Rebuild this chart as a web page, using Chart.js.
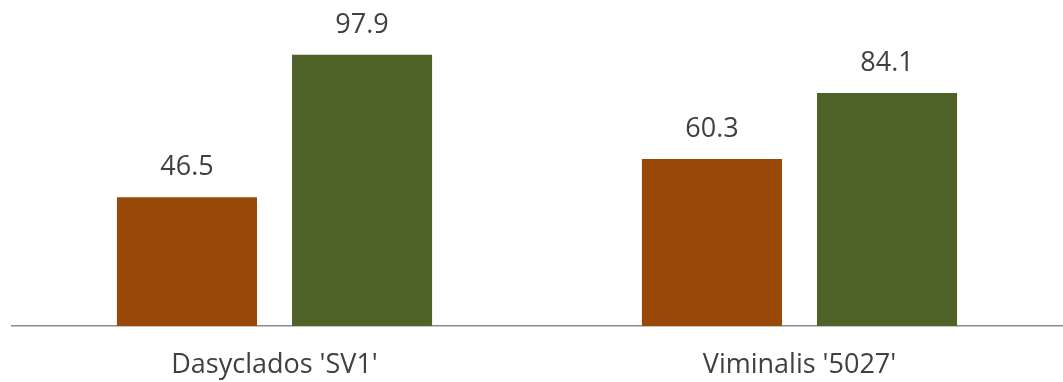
<!DOCTYPE html>
<html lang="en">
<head>
  <meta charset="utf-8" />
  <title>Dasyclados vs Viminalis</title>
  <script src="https://cdn.jsdelivr.net/npm/chart.js@4.4.1/dist/chart.umd.min.js"></script>
  <style>
    html, body { margin: 0; padding: 0; background: #fff; }
    .wrap { width: 1063px; height: 382px; position: relative; }
  </style>
</head>
<body>
  <div class="wrap"><canvas id="chart"></canvas></div>

  <script>
    // values
    const categories = ["Dasyclados 'SV1'", "Viminalis '5027'"];
    const seriesA = [46.5, 60.3];
    const seriesB = [97.9, 84.1];
    const seriesColors = ['#984807', '#4f6228'];

    const textColor = '#404040';
    const fontFamily = "'Open Sans', 'Noto Sans', sans-serif";

    // draws the value above every bar
    const valueLabels = {
      id: 'valueLabels',
      afterDatasetsDraw(chart) {
        const ctx = chart.ctx;
        ctx.save();
        ctx.fillStyle = textColor;
        ctx.font = '27px ' + fontFamily;
        ctx.textAlign = 'center';
        ctx.textBaseline = 'alphabetic';
        chart.data.datasets.forEach((ds, i) => {
          chart.getDatasetMeta(i).data.forEach((bar, j) => {
            ctx.fillText(ds.data[j].toFixed(1), bar.x, bar.y - 22);
          });
        });
        ctx.restore();
      }
    };

    new Chart(document.getElementById('chart'), {
      type: 'bar',
      data: {
        labels: categories,
        datasets: [
          { data: seriesA, backgroundColor: seriesColors[0] },
          { data: seriesB, backgroundColor: seriesColors[1] }
        ]
      },
      options: {
        responsive: true,
        maintainAspectRatio: false,
        animation: false,
        events: [],
        categoryPercentage: 0.667,
        barPercentage: 0.8,
        layout: { padding: { left: 12, right: 1, top: 49, bottom: 0 } },
        plugins: { legend: { display: false }, tooltip: { enabled: false } },
        scales: {
          x: {
            grid: { display: false, drawTicks: false },
            border: { display: true, color: '#8c8c8c', width: 1.5 },
            ticks: { color: textColor, font: { family: fontFamily, size: 27 }, padding: 23, maxRotation: 0 },
            afterFit(scale) { scale.height = 56; }
          },
          y: {
            display: false,
            min: 0,
            max: 100,
            afterFit(scale) { scale.width = 0; }
          }
        }
      },
      plugins: [valueLabels]
    });
  </script>
</body>
</html>
